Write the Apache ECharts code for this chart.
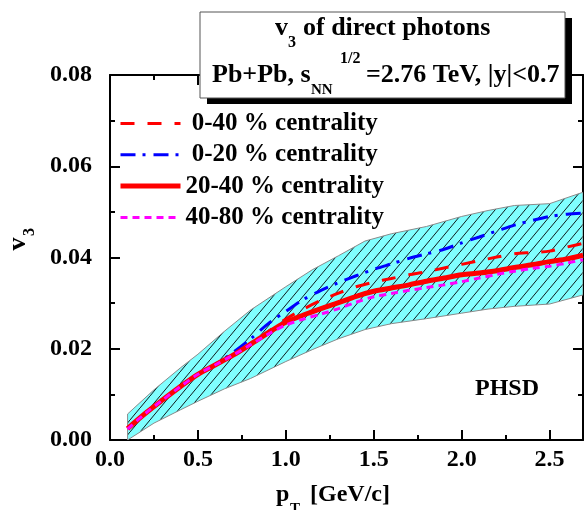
<!DOCTYPE html>
<html><head><meta charset="utf-8">
<script src="https://cdn.jsdelivr.net/npm/echarts@6/dist/echarts.min.js"></script>
<style>html,body{margin:0;padding:0;background:#fff}#c{width:584px;height:510px}</style>
</head><body><div id="c"></div>
<script>
// ---- data ----
const xTicks = [0.0, 0.5, 1.0, 1.5, 2.0, 2.5];
const yTicks = [0.00, 0.02, 0.04, 0.06, 0.08];
const seriesNames = [' 0-40 % centrality', ' 0-20 % centrality', '20-40 % centrality', '40-80 % centrality'];

const curveX   = [0.1, 0.2, 0.3, 0.4, 0.5, 0.6, 0.7, 0.8, 0.9, 1.0, 1.1, 1.2, 1.3, 1.4, 1.5, 1.6, 1.7, 1.8, 1.9, 2.0, 2.1, 2.2, 2.3, 2.4, 2.5, 2.6, 2.69];
const v3_0_40  = [0.0025, 0.0058, 0.0088, 0.0117, 0.0144, 0.0165, 0.0186, 0.0211, 0.0238, 0.0265, 0.0287, 0.0306, 0.0322, 0.0336, 0.0346, 0.0354, 0.0362, 0.0369, 0.0377, 0.0385, 0.0393, 0.0401, 0.0408, 0.0411, 0.0414, 0.0423, 0.0431];
const v3_0_20  = [0.0025, 0.0057, 0.0087, 0.0116, 0.0143, 0.0166, 0.0192, 0.0222, 0.0255, 0.0282, 0.0308, 0.0328, 0.0345, 0.0360, 0.0374, 0.0386, 0.0398, 0.0408, 0.0418, 0.0432, 0.0445, 0.0458, 0.0471, 0.0481, 0.0490, 0.0495, 0.0497];
const v3_20_40 = [0.0025, 0.0058, 0.0088, 0.0117, 0.0144, 0.0165, 0.0186, 0.0210, 0.0235, 0.0258, 0.0274, 0.0288, 0.0301, 0.0315, 0.0326, 0.0333, 0.0340, 0.0348, 0.0355, 0.0362, 0.0366, 0.0371, 0.0378, 0.0384, 0.0391, 0.0397, 0.0405];
const v3_40_80 = [0.0024, 0.0058, 0.0088, 0.0117, 0.0144, 0.0165, 0.0186, 0.0209, 0.0232, 0.0252, 0.0265, 0.0276, 0.0288, 0.0302, 0.0314, 0.0321, 0.0328, 0.0334, 0.0340, 0.0347, 0.0355, 0.0363, 0.0370, 0.0376, 0.0381, 0.0388, 0.0395];

const bandX     = [0.1, 0.25, 0.4, 0.5, 0.65, 0.8, 1.0, 1.15, 1.3, 1.45, 1.6, 1.8, 2.0, 2.15, 2.3, 2.5, 2.69];
const bandUpper = [0.0057, 0.0110, 0.0158, 0.0188, 0.0238, 0.0285, 0.0336, 0.0373, 0.0404, 0.0436, 0.0452, 0.0468, 0.0490, 0.0503, 0.0514, 0.0518, 0.0543];
const bandLower = [0.0000, 0.0037, 0.0066, 0.0085, 0.0112, 0.0135, 0.0172, 0.0198, 0.0222, 0.0242, 0.0255, 0.0266, 0.0278, 0.0287, 0.0293, 0.0298, 0.0318];

// ---- chart ----
const FONT = 'Liberation Serif';
const XMAX = 2.69;
const chart = echarts.init(document.getElementById('c'), null, {renderer: 'canvas'});

function hatchPattern() {
  const w = 10, h = 12;
  const c = document.createElement('canvas');
  c.width = w; c.height = h;
  const g = c.getContext('2d');
  g.fillStyle = '#80FFFF';
  g.fillRect(0, 0, w, h);
  g.strokeStyle = '#000';
  g.lineWidth = 0.9;
  [[-w, h], [0, 0], [w, -h]].forEach(function (d) {
    g.beginPath();
    g.moveTo(d[0], h + d[1]);
    g.lineTo(w + d[0], d[1]);
    g.stroke();
  });
  return c;
}
const pattern = {image: hatchPattern(), repeat: 'repeat'};

const tickStyle = {color: '#000', width: 2};
const lbl = {fontFamily: FONT, fontWeight: 'bold', fontSize: 24, color: '#000'};

function xAx(pos, major) {
  return {
    type: 'value', position: pos, min: 0, max: XMAX, interval: major ? 0.5 : 0.25,
    axisLine: {show: major, onZero: false, lineStyle: {color: '#000', width: 2}},
    axisTick: {show: true, inside: true, length: major ? 10 : 5, lineStyle: tickStyle},
    axisLabel: (pos === 'bottom' && major) ? Object.assign({
      show: true, margin: 8, showMaxLabel: false,
      formatter: function (v) { return xTicks.indexOf(v) >= 0 ? v.toFixed(1) : ''; }
    }, lbl) : {show: false},
    splitLine: {show: false}
  };
}
function yAx(pos) {
  return {
    type: 'value', position: pos, min: 0, max: 0.08, interval: 0.02,
    axisLine: {show: true, onZero: false, lineStyle: {color: '#000', width: 2}},
    axisTick: {show: true, inside: true, length: 10, lineStyle: tickStyle},
    minorTick: {show: true, splitNumber: 2, length: 5, lineStyle: tickStyle},
    axisLabel: pos === 'left' ? Object.assign({
      show: true, margin: 18, padding: [0, 0, 14, 0],
      formatter: function (v) { return v.toFixed(2); }
    }, lbl) : {show: false},
    splitLine: {show: false}, minorSplitLine: {show: false}
  };
}

const lineDefs = [
  {name: seriesNames[0], data: v3_0_40,  color: '#FF0000', width: 3, type: [14, 13]},
  {name: seriesNames[1], data: v3_0_20,  color: '#0000FF', width: 3, type: [15, 7, 3, 8]},
  {name: seriesNames[2], data: v3_20_40, color: '#FF0000', width: 5, type: 'solid'},
  {name: seriesNames[3], data: v3_40_80, color: '#FF00FF', width: 3, type: [7, 5]}
];

const series = [{
  type: 'custom', name: 'band', xAxisIndex: 0, yAxisIndex: 0, silent: true, clip: true, z: 1,
  data: bandX.map(function (x, i) { return [x, bandLower[i], bandUpper[i]]; }),
  encode: {x: 0, y: [1, 2]},
  renderItem: function (params, api) {
    if (params.dataIndex !== 0) return null;
    const pts = [];
    for (let i = 0; i < bandX.length; i++) pts.push(api.coord([bandX[i], bandUpper[i]]));
    for (let i = bandX.length - 1; i >= 0; i--) pts.push(api.coord([bandX[i], bandLower[i]]));
    return {type: 'polygon', shape: {points: pts}, style: {fill: pattern, stroke: '#8a8a8a', lineWidth: 1}};
  }
}].concat(lineDefs.map(function (d, k) {
  return {
    type: 'line', name: d.name, xAxisIndex: 0, yAxisIndex: 0,
    data: curveX.map(function (x, i) { return [x, d.data[i]]; }),
    symbol: 'none', smooth: 0.3, z: 3 + k,
    lineStyle: {color: d.color, width: d.width, type: d.type},
    itemStyle: {color: d.color}
  };
}));

const T = function (text, x, y, size, extra) {
  return Object.assign({
    type: 'text', x: x, y: y, z: 102,
    style: {text: text, font: 'bold ' + size + 'px "' + FONT + '"', fill: '#000',
            align: 'left', verticalAlign: 'middle', textAlign: 'left', textVerticalAlign: 'middle'}
  }, extra || {});
};

chart.setOption({
  animation: false,
  backgroundColor: '#fff',
  grid: {left: 110, right: 1, top: 75, bottom: 70, containLabel: false, outerBoundsMode: 'none'},
  xAxis: [xAx('bottom', true), xAx('bottom', false), xAx('top', true), xAx('top', false)],
  yAxis: [yAx('left'), yAx('right')],
  legend: {
    orient: 'vertical', left: 118, top: 111, padding: 0, itemWidth: 60, itemHeight: 14, itemGap: 6.3,
    data: seriesNames, selectedMode: false,
    textStyle: {fontFamily: FONT, fontWeight: 'bold', fontSize: 25, color: '#000', lineHeight: 25},
    lineStyle: {width: 'inherit'},
    itemStyle: {opacity: 0}
  },
  series: series,
  graphic: [
    {type: 'rect', z: 100, shape: {x: 207, y: 18, width: 365, height: 86}, style: {fill: '#000'}},
    {type: 'rect', z: 101, shape: {x: 200, y: 12, width: 365, height: 86}, style: {fill: '#fff', stroke: '#555', lineWidth: 1}},
    T('v', 275, 28, 26),
    T('3', 288, 43, 16),
    T('of direct photons', 303, 28, 26),
    T('Pb+Pb, s', 212, 75, 26),
    T('NN', 311, 90, 15),
    T('1/2', 340, 59, 16),
    T('=2.76 TeV, |y|<0.7', 366, 75, 26),
    T('PHSD', 475, 389, 24, {z: 50}),
    T('p', 276, 495, 24, {z: 50}),
    T('T', 290, 509, 15, {z: 50}),
    T('[GeV/c]', 310, 495, 24, {z: 50}),
    T('v', 18, 244, 26, {z: 50, rotation: Math.PI / 2, style: {text: 'v', font: 'bold 26px "' + FONT + '"', fill: '#000', align: 'center', verticalAlign: 'middle', textAlign: 'center', textVerticalAlign: 'middle'}}),
    T('3', 30, 232, 16, {z: 50, rotation: Math.PI / 2, style: {text: '3', font: 'bold 16px "' + FONT + '"', fill: '#000', align: 'center', verticalAlign: 'middle', textAlign: 'center', textVerticalAlign: 'middle'}})
  ]
});
</script>
</body></html>
